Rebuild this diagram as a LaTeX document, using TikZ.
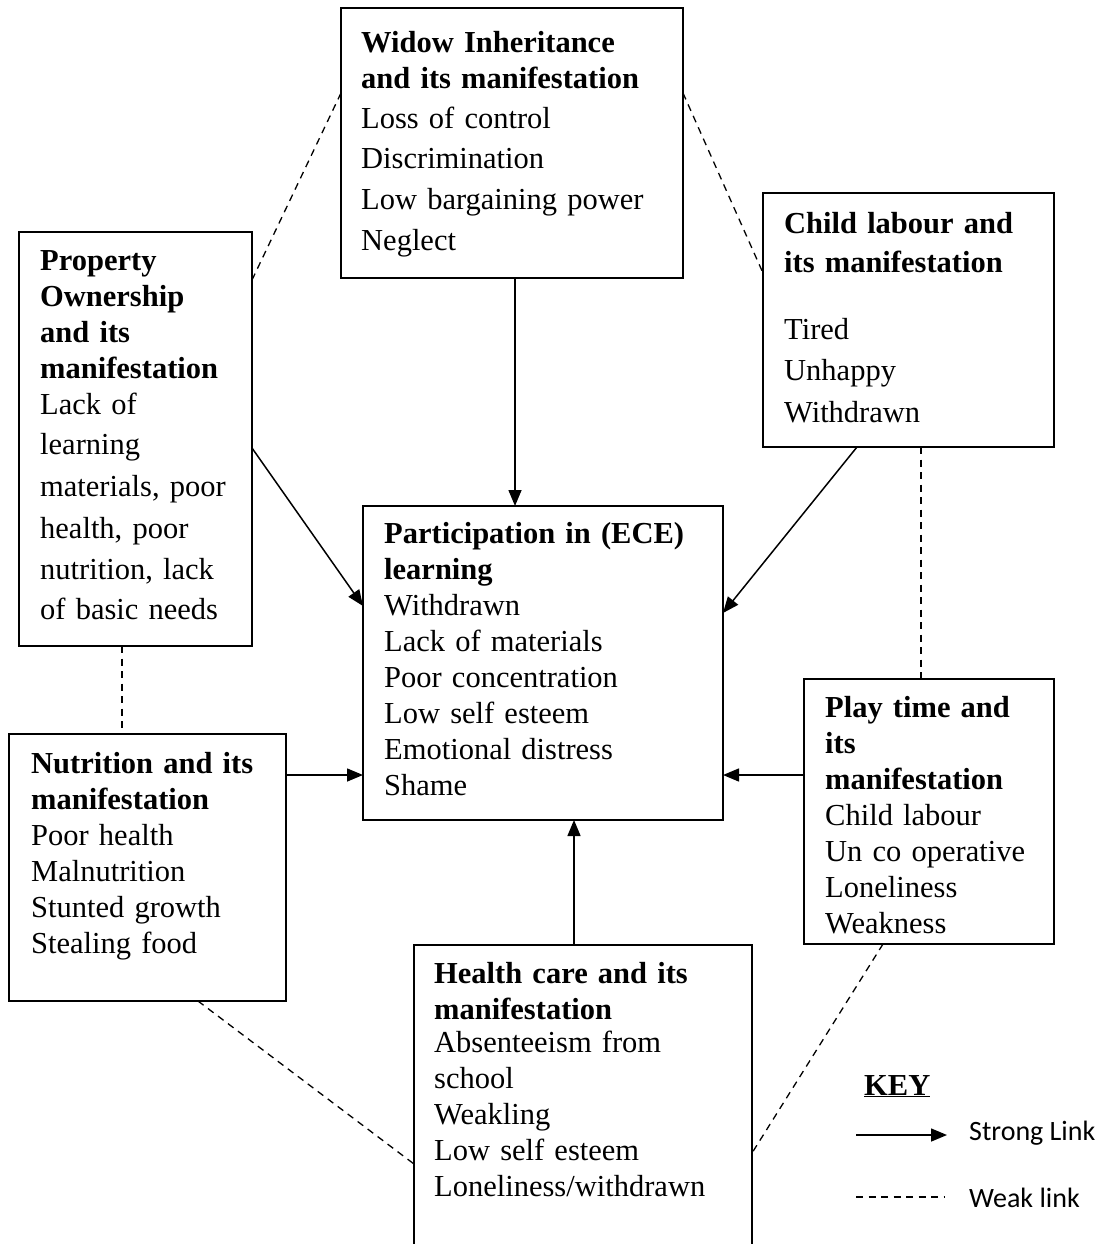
\documentclass[tikz,border=0pt]{standalone}
\usepackage{fontspec}
\setmainfont{Liberation Serif}
\newfontfamily\keyfont{Carlito}
\usetikzlibrary{arrows.meta}
\begin{document}
\begin{tikzpicture}[x=1pt,y=-1pt,
  boxline/.style={line width=1.8pt},
  box/.style={draw, boxline, rectangle, anchor=north west, inner sep=0pt, outer sep=0pt},
  openbox/.style={rectangle, anchor=north west, inner sep=0pt, outer sep=0pt},
  txt/.style={anchor=base west, inner sep=0pt, text width=400pt, align=left,
              font=\fontsize{30.5}{36}\selectfont},
  strong/.style={line width=1.5pt, -{Triangle[length=16pt,width=13pt]}},
  weak/.style={line width=1.3pt, dash pattern=on 7pt off 5.5pt},
  keylabel/.style={anchor=base west, inner sep=0pt, font=\keyfont\fontsize{28}{32}\selectfont}
]
\useasboundingbox (0,0) rectangle (1117,1244);

% boxes
\node[box, minimum width=342pt, minimum height=270pt] (widow) at (341,8) {};
\node[box, minimum width=291pt, minimum height=254pt] (child) at (763,193) {};
\node[box, minimum width=233pt, minimum height=414pt] (prop) at (19,232) {};
\node[box, minimum width=360pt, minimum height=314pt] (part) at (363,506) {};
\node[box, minimum width=277pt, minimum height=267pt] (nutr) at (9,734) {};
\node[box, minimum width=250pt, minimum height=265pt] (play) at (804,679) {};
\node[openbox, minimum width=338pt, minimum height=310pt] (health) at (414,945) {};
\draw[boxline] (health.south west) -- (health.north west) -- (health.north east) -- (health.south east);

% texts
\node[txt] (widowt) at (361,53) {\textbf{Widow Inheritance}\\
  \textbf{and its manifestation}\\[4pt]
  Loss of control\\[4pt]
  Discrimination\\[5pt]
  Low bargaining power\\[5pt]
  Neglect};
\node[txt] (childt) at (784,233) {\textbf{Child labour and}\\[3pt]
  \textbf{its manifestation}\\[31pt]
  Tired\\[5pt]
  Unhappy\\[6pt]
  Withdrawn};
\node[txt] (propt) at (40,270) {\textbf{Property}\\
  \textbf{Ownership}\\
  \textbf{and its}\\
  \textbf{manifestation}\\
  Lack of\\[4pt]
  learning\\[6pt]
  materials, poor\\[6pt]
  health, poor\\[5pt]
  nutrition, lack\\[4pt]
  of basic needs};
\node[txt] (partt) at (384,543) {\textbf{Participation in (ECE)}\\
  \textbf{learning}\\
  Withdrawn\\
  Lack of materials\\
  Poor concentration\\
  Low self esteem\\
  Emotional distress\\
  Shame};
\node[txt] (nutrt) at (31,773) {\textbf{Nutrition and its}\\
  \textbf{manifestation}\\
  Poor health\\
  Malnutrition\\
  Stunted growth\\
  Stealing food};
\node[txt] (playt) at (825,717) {\textbf{Play time and}\\
  \textbf{its}\\
  \textbf{manifestation}\\
  Child labour\\
  Un co operative\\
  Loneliness\\
  Weakness};
\node[txt] (healtht) at (434,983) {\textbf{Health care and its}\\
  \textbf{manifestation}\\[-3pt]
  Absenteeism from\\
  school\\
  Weakling\\
  Low self esteem\\
  Loneliness/withdrawn};

% strong links
\draw[strong] ([xshift=3pt]widow.south) -- ([xshift=3pt]widow.south |- part.north);
\draw[strong] (prop.east |- 0,448) -- (part.west |- 0,606);
\draw[strong] (child.south -| 857,0) -- (part.east |- 0,613);
\draw[strong] (nutr.east |- 0,775) -- (part.west |- 0,775);
\draw[strong] (play.west |- 0,775) -- (part.east |- 0,775);
\draw[strong] (health.north -| 574,0) -- (part.south -| 574,0);

% weak links
\draw[weak] (widow.west |- 0,93) -- (prop.east |- 0,280);
\draw[weak] (widow.east |- 0,93) -- (child.west |- 0,273);
\draw[weak] (child.south -| 921,0) -- (play.north -| 921,0);
\draw[weak] (prop.south -| 122,0) -- (nutr.north -| 122,0);
\draw[weak] (nutr.south -| 198,0) -- (health.west |- 0,1164);
\draw[weak] (play.south -| 883,0) -- (health.east |- 0,1153);

% key
\node[anchor=base west, inner sep=0pt, font=\fontsize{30.5}{36}\selectfont] (keyt) at (864,1095) {\textbf{\underline{KEY}}};
\coordinate (ks1) at (856,1135);
\coordinate (ks2) at (947,1135);
\draw[strong] (ks1) -- (ks2);
\node[keylabel] (kst) at (969,1140) {Strong Link};
\coordinate (kw1) at (856,1197);
\coordinate (kw2) at (945,1197);
\draw[weak] (kw1) -- (kw2);
\node[keylabel] (kwt) at (969,1207) {Weak link};
\end{tikzpicture}
\end{document}
